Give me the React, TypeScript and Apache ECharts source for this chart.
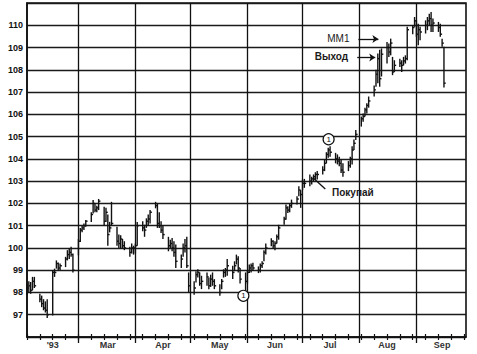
import React, { useEffect, useRef } from 'react';
import * as echarts from 'echarts';

// Calendar day index counted from 1 Feb 1993 (day 0)
const tradeDays = [
  0, 1, 2, 3, 4, 7, 8, 9, 10, 11, 14, 15, 16, 17, 18, 21, 22, 23, 24, 25,
  28, 29, 30, 31, 32, 35, 36, 37, 38, 39, 42, 43, 44, 45, 46, 49, 50, 51, 52, 53, 56, 57, 58,
  59, 60, 63, 64, 65, 66, 67, 70, 71, 72, 73, 74, 77, 78, 79, 80, 81, 84, 85, 86, 87, 88,
  91, 92, 93, 94, 95, 98, 99, 100, 101, 102, 105, 106, 107, 108, 109, 112, 113, 114, 115, 116, 119,
  120, 121, 122, 123, 126, 127, 128, 129, 130, 133, 134, 135, 136, 137, 140, 141, 142, 143, 144, 147, 148, 149,
  150, 151, 154, 155, 156, 157, 158, 161, 162, 163, 164, 165, 168, 169, 170, 171, 172, 175, 176, 177, 178, 179,
  182, 183, 184, 185, 186, 189, 190, 191, 192, 193, 196, 197, 198, 199, 200, 203, 204, 205, 206, 207, 210, 211,
  212, 213, 214, 217, 218, 219, 220, 221, 224, 225, 226, 227,
];
const highs = [
  98.4, 98.5, 98.47, 98.7, 98.7, 97.94, 97.86, 97.7, 97.6, 97.7, 99.0, 99.07, 99.44, 99.35, 99.3, 99.6, 99.9, 100.0, 100.05, 99.75,
  100.4, 100.9, 101.0, 101.1, 101.25, 101.6, 102.15, 102.0, 101.9, 102.2, 101.85, 101.8, 101.5, 101.17, 102.07, 100.95, 100.6, 100.57, 100.4, 100.3, 100.05, 100.2, 100.1,
  100.2, 101.17, 101.2, 101.04, 101.33, 101.5, 101.7, 102.07, 102.0, 101.6, 101.2, 101.0, 100.5, 100.37, 100.45, 100.3, 100.15, 99.7, 100.2, 100.4, 100.5, 98.9,
  98.5, 98.95, 99.04, 98.9, 98.75, 98.9, 98.67, 98.8, 98.9, 98.6, 98.37, 98.6, 99.04, 99.1, 99.5, 99.2, 99.4, 99.7, 99.63, 99.1, 98.9,
  99.0, 99.26, 99.3, 99.33, 99.17, 99.3, 99.4, 99.9, 100.2, 100.44, 100.35, 100.3, 100.6, 101.04, 101.4, 101.95, 101.87, 102.0, 102.17, 102.32, 102.77, 102.6,
  103.07, 103.1, 103.3, 103.2, 103.3, 103.4, 103.45, 103.67, 103.97, 104.3, 104.5, 104.57, 104.27, 104.2, 104.1, 103.97, 103.8, 103.9, 104.1, 104.57, 104.87, 105.3,
  105.9, 106.04, 106.3, 106.5, 106.8, 107.3, 108.0, 108.73, 108.9, 108.96, 109.25, 109.18, 109.4, 108.58, 108.43, 108.5, 108.43, 108.58, 108.65, 109.93, 110.0, 110.37,
  110.22, 110.07, 109.93, 110.22, 110.37, 110.52, 110.6, 110.3, 110.15, 110.07, 109.4, 109.03,
];
const lows = [
  97.9, 98.0, 97.94, 98.1, 98.2, 97.56, 97.34, 97.2, 97.1, 96.85, 96.96, 98.7, 99.07, 99.0, 99.0, 99.14, 99.44, 99.5, 99.6, 98.9,
  99.67, 100.27, 100.7, 100.8, 100.95, 101.17, 101.55, 101.6, 101.6, 101.7, 101.0, 101.17, 100.1, 100.7, 101.0, 100.1, 100.0, 99.97, 99.97, 99.9, 99.6, 99.75, 99.7,
  99.75, 100.1, 100.75, 100.5, 100.9, 101.0, 101.1, 101.78, 100.9, 100.9, 100.67, 100.4, 99.85, 100.0, 99.85, 99.6, 99.1, 99.1, 99.6, 99.8, 99.1, 98.0,
  97.9, 98.45, 98.67, 98.3, 98.15, 98.3, 98.15, 98.25, 98.3, 98.15, 97.85, 98.15, 98.67, 98.7, 98.75, 98.6, 98.96, 99.26, 98.9, 98.4, 97.8,
  98.4, 98.87, 98.9, 98.96, 98.87, 98.9, 99.1, 99.4, 99.7, 100.07, 99.95, 99.9, 100.2, 100.37, 101.04, 101.27, 101.57, 101.6, 101.8, 101.95, 102.32, 101.8,
  102.6, 102.7, 102.77, 102.85, 103.0, 103.05, 103.07, 103.3, 103.45, 103.8, 104.05, 104.1, 103.8, 103.75, 103.67, 103.37, 103.2, 103.45, 103.6, 103.75, 104.4, 104.85,
  105.45, 105.67, 105.9, 106.04, 106.3, 106.8, 107.24, 107.4, 107.24, 107.7, 108.28, 108.58, 108.65, 107.76, 107.9, 108.13, 107.9, 108.2, 108.28, 108.43, 109.6, 109.93,
  109.48, 109.1, 109.33, 109.63, 109.78, 110.0, 109.7, 109.7, 109.7, 109.48, 109.03, 107.2,
];
const closes = [
  98.2, 98.3, 98.1, 98.5, 98.3, 97.7, 97.5, 97.3, 97.2, 97.0, 98.9, 98.9, 99.3, 99.1, 99.2, 99.5, 99.7, 99.8, 99.7, 99.0,
  100.3, 100.8, 100.9, 101.0, 101.2, 101.5, 102.0, 101.7, 101.8, 102.1, 101.2, 101.6, 100.6, 100.9, 101.1, 100.3, 100.2, 100.4, 100.1, 100.0, 99.8, 100.0, 100.0,
  100.1, 101.0, 100.9, 100.8, 101.2, 101.3, 101.6, 101.9, 101.1, 101.0, 100.8, 100.6, 100.1, 100.2, 100.0, 99.8, 99.4, 99.5, 100.0, 100.1, 99.2, 98.3,
  98.2, 98.8, 98.9, 98.4, 98.5, 98.7, 98.3, 98.6, 98.5, 98.3, 98.0, 98.5, 98.9, 99.0, 99.2, 98.9, 99.2, 99.5, 99.1, 98.6, 98.5,
  98.9, 99.1, 99.2, 99.1, 99.0, 99.2, 99.3, 99.8, 100.0, 100.3, 100.1, 100.2, 100.5, 100.9, 101.3, 101.8, 101.7, 101.9, 102.0, 102.2, 102.6, 102.4,
  102.9, 102.9, 103.0, 103.1, 103.2, 103.3, 103.3, 103.5, 103.8, 104.2, 104.4, 104.3, 104.0, 103.9, 103.8, 103.5, 103.4, 103.7, 104.0, 104.4, 104.7, 105.1,
  105.8, 105.9, 106.2, 106.4, 106.6, 107.1, 107.8, 108.5, 107.6, 108.7, 109.0, 108.8, 109.2, 107.9, 108.2, 108.3, 108.2, 108.4, 108.5, 109.8, 109.9, 110.2,
  109.6, 109.8, 109.7, 110.0, 110.2, 110.3, 110.0, 110.1, 109.9, 109.6, 109.2, 107.4,
];

const monthStarts = [28, 59, 89, 120, 150, 181, 212];
const weekTicks = [0, 7, 14, 21, 28, 35, 42, 49, 56, 63, 70, 77, 84, 91, 98, 105, 112, 119, 126, 133, 140, 147, 154, 161, 168, 175, 182, 189, 196, 203, 210, 217, 224, 231, 238];
const monthLabelDays = [14, 44, 74, 105, 135, 165, 196, 226];
const monthLabels = ["'93", 'Mar', 'Apr', 'May', 'Jun', 'Jul', 'Aug', 'Sep'];

const FONT = "'Liberation Sans', Arial, sans-serif";
const INK = '#111';

export default function App() {
  const ref = useRef<HTMLDivElement>(null);
  useEffect(() => {
    if (!ref.current) return;
    const chart = echarts.init(ref.current, null, { renderer: 'svg' });
    const data = tradeDays.map((d, i) => [d, highs[i], lows[i], closes[i]]);
    const xBase = { type: 'value', min: 0, max: 239, position: 'bottom', splitLine: { show: false } };
    const textPoint = (coord: number[], text: string, bold: boolean) => ({
      coord,
      symbol: 'rect',
      symbolSize: 1,
      itemStyle: { color: 'rgba(0,0,0,0)' },
      label: {
        show: true, position: 'inside', formatter: text, color: '#1a1a1a',
        fontSize: 10, fontWeight: bold ? 'bold' : 'normal', fontFamily: FONT,
      },
    });
    const circlePoint = (coord: number[]) => ({
      coord,
      symbol: 'circle',
      symbolSize: 11,
      itemStyle: { color: '#fff', borderColor: INK, borderWidth: 1.2 },
      label: { show: true, position: 'inside', formatter: '1', color: INK, fontSize: 8, fontFamily: FONT },
    });
    chart.setOption({
      animation: false,
      backgroundColor: '#fff',
      grid: { left: 27, right: 11, top: 3, bottom: 17, show: true, borderColor: INK, borderWidth: 1.6, backgroundColor: 'transparent' },
      xAxis: [
        {
          ...xBase,
          axisLine: { show: true, lineStyle: { color: INK, width: 1.6 } },
          axisTick: { show: true, customValues: weekTicks, length: 3, lineStyle: { color: INK, width: 1.2 } },
          axisLabel: {
            show: true, customValues: monthLabelDays,
            formatter: (v: number) => { const i = monthLabelDays.indexOf(v); return i >= 0 ? monthLabels[i] : ''; },
            fontSize: 9, color: '#333', fontWeight: 'bold', fontFamily: FONT, margin: 3,
          },
        },
        {
          ...xBase,
          axisLine: { show: false },
          axisTick: { show: true, customValues: weekTicks, length: 3, inside: true, lineStyle: { color: INK, width: 1.2 } },
          axisLabel: { show: false },
        },
        {
          ...xBase,
          axisLine: { show: false },
          axisTick: { show: true, customValues: monthStarts, length: 6, lineStyle: { color: INK, width: 1.3 } },
          axisLabel: { show: false },
        },
      ],
      yAxis: {
        type: 'value', min: 96, max: 111, interval: 1,
        axisLine: { show: true, lineStyle: { color: INK, width: 1.6 } },
        axisTick: { show: false },
        axisLabel: {
          formatter: (v: number) => (v < 97 || v > 110 ? '' : String(v)),
          fontSize: 9, fontWeight: 'bold', color: INK, fontFamily: FONT, margin: 4,
        },
        splitLine: { show: true, lineStyle: { color: '#1a1a1a', width: 1.3 } },
      },
      series: [
        {
          type: 'custom',
          xAxisIndex: 0,
          yAxisIndex: 0,
          data,
          encode: { x: 0, y: [1, 2, 3] },
          renderItem: (params: any, api: any) => {
            const x = api.value(0);
            const pH = api.coord([x, api.value(1)]);
            const pL = api.coord([x, api.value(2)]);
            const pC = api.coord([x, api.value(3)]);
            const style = { stroke: INK, lineWidth: 1.4 };
            return {
              type: 'group',
              children: [
                { type: 'line', shape: { x1: pH[0], y1: pH[1], x2: pL[0], y2: pL[1] }, style },
                { type: 'line', shape: { x1: pC[0], y1: pC[1], x2: pC[0] + 1.8, y2: pC[1] }, style },
              ],
            };
          },
          markLine: {
            silent: true,
            symbol: 'none',
            label: { show: false },
            lineStyle: { type: 'solid', color: INK, width: 1.3 },
            data: [
              ...monthStarts.map((d) => ({ xAxis: d })),
              [{ coord: [180.4, 109.38], symbol: 'none' }, { coord: [191.3, 109.38], symbol: 'arrow', symbolSize: 6 }],
              [{ coord: [179.8, 108.55], symbol: 'none' }, { coord: [189.6, 108.55], symbol: 'arrow', symbolSize: 6 }],
              [{ coord: [162.4, 102.65], symbol: 'none' }, { coord: [156.0, 103.13], symbol: 'none' }],
            ],
          },
          markPoint: {
            silent: true,
            data: [
              textPoint([169.5, 109.41], 'MM1', false),
              textPoint([165.7, 108.58], 'Выход', true),
              textPoint([177.4, 102.48], 'Покупай', true),
              circlePoint([164.2, 104.88]),
              circlePoint([117.8, 97.85]),
            ],
          },
        },
      ],
    });
    return () => chart.dispose();
  }, []);
  return <div ref={ref} style={{ position: 'absolute', left: 0, top: 0, width: 477, height: 354 }} />;
}
